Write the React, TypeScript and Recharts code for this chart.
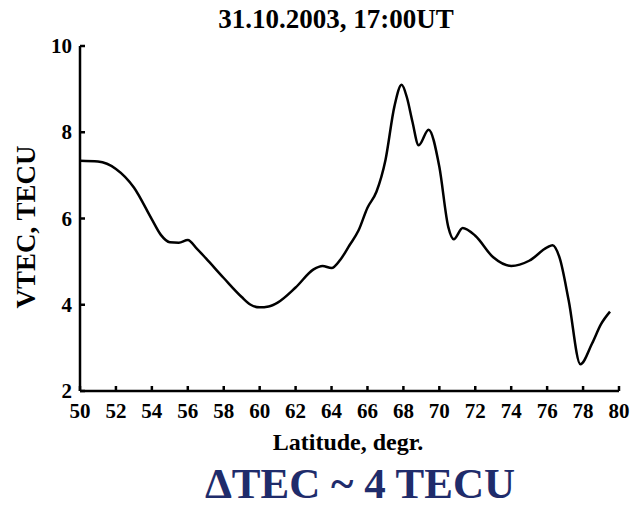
import React from "react";
import { LineChart, Line, XAxis, YAxis } from "recharts";

const latitudes = [50, 51, 52, 53, 54, 54.5, 55, 55.5, 56, 56.5, 57, 58, 59, 59.5, 60, 60.5, 61, 62, 63, 63.5, 64, 64.5, 65, 65.5, 66, 66.5, 67, 67.5, 67.9, 68.2, 68.5, 68.85, 69.4, 70, 70.5, 70.8, 71.3, 72, 73, 74, 75, 76, 76.3, 76.7, 77.2, 77.85, 78.5, 79, 79.5];
const vtec = [7.34, 7.32, 7.15, 6.72, 5.98, 5.62, 5.45, 5.44, 5.5, 5.3, 5.08, 4.62, 4.18, 4.0, 3.94, 3.96, 4.05, 4.4, 4.82, 4.9, 4.85, 5.05, 5.38, 5.72, 6.25, 6.62, 7.35, 8.6, 9.1, 8.8, 8.25, 7.7, 8.06, 7.2, 5.8, 5.52, 5.78, 5.6, 5.1, 4.9, 5.02, 5.33, 5.38, 5.08, 4.1, 2.62, 3.1, 3.55, 3.84];
const xTicks = [50, 52, 54, 56, 58, 60, 62, 64, 66, 68, 70, 72, 74, 76, 78, 80];
const yTicks = [2, 4, 6, 8, 10];

const title = "31.10.2003, 17:00UT";
const xLabel = "Latitude, degr.";
const yLabel = "VTEC, TECU";
const note = "\u0394TEC ~ 4 TECU";

const data = latitudes.map((lat, i) => ({ lat, v: vtec[i] }));

const FONT = "'Liberation Serif', 'Times New Roman', serif";

const XTick = (props: any) => {
  const { x, y, payload } = props;
  const axisY = y - 4;
  return (
    <g>
      <line x1={x} y1={axisY} x2={x} y2={axisY - 5} stroke="#000" strokeWidth={2.5} />
      <text x={x} y={axisY + 27} textAnchor="middle" fontFamily={FONT} fontWeight="bold" fontSize={21} fill="#000">
        {payload.value}
      </text>
    </g>
  );
};

const YTick = (props: any) => {
  const { x, y, payload } = props;
  const axisX = x + 4;
  return (
    <g>
      <line x1={axisX} y1={y} x2={axisX + 5} y2={y} stroke="#000" strokeWidth={2.5} />
      <text x={axisX - 8} y={y + 7} textAnchor="end" fontFamily={FONT} fontWeight="bold" fontSize={21} fill="#000">
        {payload.value}
      </text>
    </g>
  );
};

export default function App() {
  return (
    <div style={{ position: "absolute", left: 0, top: 0, width: 630, height: 508, background: "#fff" }}>
      <LineChart
        width={630}
        height={508}
        data={data}
        margin={{ top: 46, right: 11, bottom: 87, left: 20 }}
      >
        <XAxis
          dataKey="lat"
          type="number"
          domain={[50, 80]}
          ticks={xTicks}
          interval={0}
          height={30}
          tickSize={0}
          tickMargin={4}
          tickLine={false}
          axisLine={{ stroke: "#000", strokeWidth: 2.5 }}
          tick={<XTick />}
          allowDataOverflow
        />
        <YAxis
          type="number"
          domain={[2, 10]}
          ticks={yTicks}
          interval={0}
          width={60}
          tickSize={0}
          tickMargin={4}
          tickLine={false}
          axisLine={{ stroke: "#000", strokeWidth: 2.5 }}
          tick={<YTick />}
          allowDataOverflow
        />
        <Line
          type="monotone"
          dataKey="v"
          stroke="#000"
          strokeWidth={2.5}
          dot={false}
          isAnimationActive={false}
        />
      </LineChart>
      <svg
        width={630}
        height={508}
        style={{ position: "absolute", left: 0, top: 0, pointerEvents: "none" }}
      >
        <text x={336} y={28} textAnchor="middle" fontFamily={FONT} fontWeight="bold" fontSize={27} fill="#000">
          {title}
        </text>
        <text x={348} y={450} textAnchor="middle" fontFamily={FONT} fontWeight="bold" fontSize={24} fill="#000">
          {xLabel}
        </text>
        <text
          x={0}
          y={0}
          transform="translate(35,227) rotate(-90)"
          textAnchor="middle"
          fontFamily={FONT}
          fontWeight="bold"
          fontSize={27}
          fill="#000"
        >
          {yLabel}
        </text>
        <text x={360} y={498} textAnchor="middle" fontFamily={FONT} fontWeight="bold" fontSize={43} fill="#1F2C6B">
          {note}
        </text>
      </svg>
    </div>
  );
}
